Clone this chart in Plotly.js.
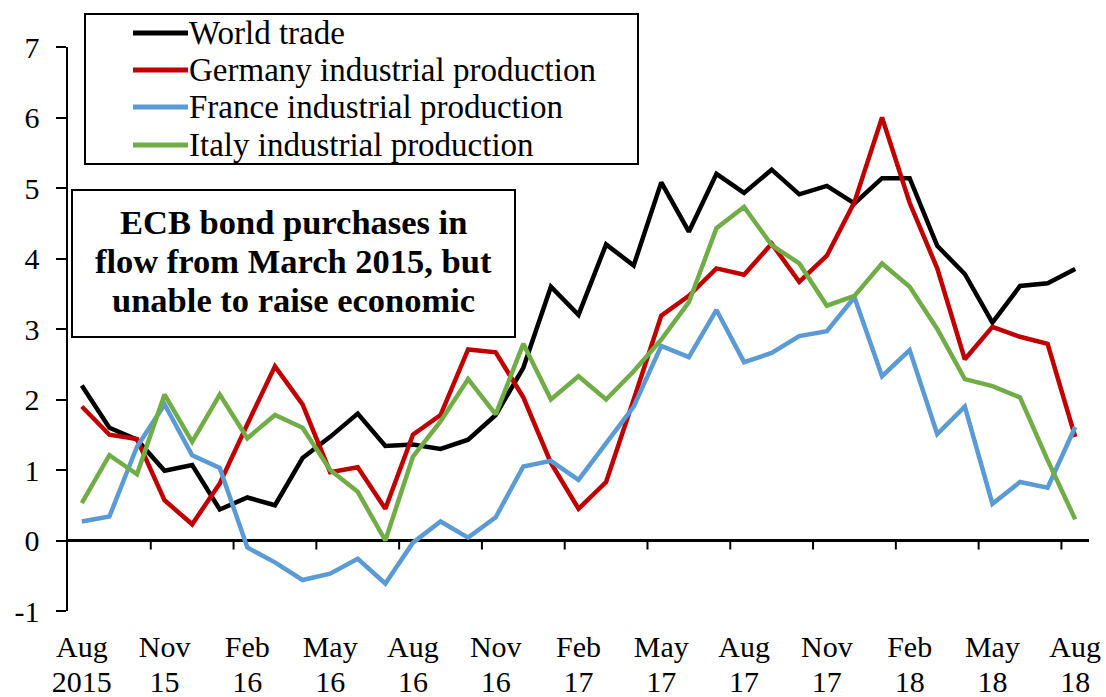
<!DOCTYPE html>
<html>
<head>
<meta charset="utf-8">
<script src="https://cdn.plot.ly/plotly-3.0.1.min.js"></script>
<style>
  html, body { margin: 0; padding: 0; background: #ffffff; }
  #chart { width: 1106px; height: 697px; }
</style>
</head>
<body>
<div id="chart"></div>
<script>
// Monthly categories, Aug 2015 .. Aug 2018 (year-on-year % change)
var months = [
  "Aug 2015", "Sep 2015", "Oct 2015", "Nov 2015", "Dec 2015",
  "Jan 2016", "Feb 2016", "Mar 2016", "Apr 2016", "May 2016", "Jun 2016",
  "Jul 2016", "Aug 2016", "Sep 2016", "Oct 2016", "Nov 2016", "Dec 2016",
  "Jan 2017", "Feb 2017", "Mar 2017", "Apr 2017", "May 2017", "Jun 2017",
  "Jul 2017", "Aug 2017", "Sep 2017", "Oct 2017", "Nov 2017", "Dec 2017",
  "Jan 2018", "Feb 2018", "Mar 2018", "Apr 2018", "May 2018", "Jun 2018",
  "Jul 2018", "Aug 2018"
];

var worldTrade = [2.2, 1.6, 1.43, 0.99, 1.07, 0.44, 0.61, 0.5, 1.17, 1.47, 1.8,
  1.34, 1.36, 1.3, 1.43, 1.78, 2.45, 3.6, 3.2, 4.2, 3.9, 5.08, 4.38,
  5.2, 4.93, 5.26, 4.91, 5.03, 4.78, 5.14, 5.14, 4.18, 3.78, 3.09, 3.61,
  3.65, 3.85];

var germany = [1.9, 1.5, 1.44, 0.57, 0.23, 0.81, 1.65, 2.47, 1.93, 0.97, 1.04,
  0.45, 1.5, 1.78, 2.71, 2.67, 2.03, 1.1, 0.45, 0.83, 2.0, 3.19, 3.47,
  3.86, 3.77, 4.21, 3.67, 4.04, 4.8, 6.0, 4.79, 3.86, 2.57, 3.03, 2.89,
  2.79, 1.47];

var france = [0.27, 0.34, 1.33, 1.93, 1.21, 1.03, -0.1, -0.31, -0.56, -0.47, -0.26,
  -0.61, -0.03, 0.27, 0.04, 0.33, 1.05, 1.13, 0.86, 1.38, 1.9, 2.76, 2.6,
  3.27, 2.53, 2.66, 2.9, 2.97, 3.45, 2.33, 2.7, 1.51, 1.9, 0.52, 0.83,
  0.75, 1.61];

var italy = [0.53, 1.21, 0.94, 2.07, 1.4, 2.07, 1.45, 1.78, 1.6, 1.0, 0.69,
  0.0, 1.19, 1.69, 2.29, 1.79, 2.79, 2.0, 2.33, 2.0, 2.4, 2.85, 3.38,
  4.43, 4.73, 4.19, 3.93, 3.33, 3.47, 3.93, 3.6, 3.0, 2.29, 2.19, 2.03,
  1.14, 0.3];

var seriesNames = [
  "World trade",
  "Germany industrial production",
  "France industrial production",
  "Italy industrial production"
];
var seriesColors = ["#000000", "#C00000", "#5B9BD5", "#70AD47"];

// Quarterly tick labels: month row and year row
var tickMonths = ["Aug 2015", "Nov 2015", "Feb 2016", "May 2016", "Aug 2016",
  "Nov 2016", "Feb 2017", "May 2017", "Aug 2017", "Nov 2017", "Feb 2018",
  "May 2018", "Aug 2018"];
var monthText = ["Aug", "Nov", "Feb", "May", "Aug", "Nov", "Feb", "May", "Aug",
  "Nov", "Feb", "May", "Aug"];
var yearText = ["2015", "15", "16", "16", "16", "16", "17", "17", "17", "17",
  "18", "18", "18"];

var yTicks = [-1, 0, 1, 2, 3, 4, 5, 6, 7];
var yTickText = ["-1", "0", "1", "2", "3", "4", "5", "6", "7"];

var noteLines = ["ECB bond purchases in", "flow from March 2015, but",
  "unable to raise economic"];

// ---- page geometry (pixels) ----
var W = 1106, H = 697;
var M = { l: 68, r: 17, t: 47, b: 86 };
var plotW = W - M.l - M.r, plotH = H - M.t - M.b;
function px(x) { return (x - M.l) / plotW; }
function py(y) { return (H - M.b - y) / plotH; }

var FONT = "Liberation Serif, Times New Roman, serif";
var allSeries = [worldTrade, germany, france, italy];

// Series are stacked in order: world trade at the bottom, Italy on top.
// Italy sits on the overlaid x2 axis, which also carries the year row.
var traces = allSeries.map(function (vals, k) {
  return {
    type: "scatter",
    mode: "lines",
    x: months,
    y: vals,
    xaxis: k === 3 ? "x2" : "x",
    yaxis: "y",
    name: seriesNames[k],
    line: { color: seriesColors[k], width: 4.5 },
    showlegend: false,
    hoverinfo: "x+y+name"
  };
});

var shapes = [];
// Tick marks on the zero line, between categories every third month
for (var i = 3; i < months.length; i += 3) {
  shapes.push({
    type: "line", xref: "x", yref: "y", ysizemode: "pixel", yanchor: 0,
    x0: i - 0.5, x1: i - 0.5, y0: 0, y1: -9,
    line: { color: "#000000", width: 2 }
  });
}

// Legend box
var legBox = { x0: 85, x1: 638, y0: 14, y1: 164 };
shapes.push({
  type: "rect", xref: "paper", yref: "paper",
  x0: px(legBox.x0), x1: px(legBox.x1), y0: py(legBox.y1), y1: py(legBox.y0),
  line: { color: "#000000", width: 2 }, fillcolor: "#ffffff", layer: "above"
});
var legRows = [33, 70, 107, 145];
var annotations = [];
for (var k = 0; k < seriesNames.length; k++) {
  shapes.push({
    type: "line", xref: "paper", yref: "paper",
    x0: px(133), x1: px(188), y0: py(legRows[k]), y1: py(legRows[k]),
    line: { color: seriesColors[k], width: 5 }, layer: "above"
  });
  annotations.push({
    xref: "paper", yref: "paper", x: px(187), y: py(legRows[k]),
    xanchor: "left", yanchor: "middle", showarrow: false,
    text: seriesNames[k],
    font: { family: FONT, size: 33, color: "#000000" }
  });
}

// Boxed note, one annotation per line for tight line spacing
var noteBox = { x0: 72, x1: 515, y0: 190, y1: 337 };
shapes.push({
  type: "rect", xref: "paper", yref: "paper",
  x0: px(noteBox.x0), x1: px(noteBox.x1), y0: py(noteBox.y1), y1: py(noteBox.y0),
  line: { color: "#000000", width: 2 }, fillcolor: "#ffffff", layer: "above"
});
var noteRows = [222, 261, 300];
noteLines.forEach(function (line, j) {
  annotations.push({
    xref: "paper", yref: "paper",
    x: px(293), y: py(noteRows[j]),
    xanchor: "center", yanchor: "middle", showarrow: false,
    text: "<b>" + line + "</b>",
    font: { family: FONT, size: 34.5, color: "#000000" }
  });
});

var tickFont = { family: FONT, size: 30, color: "#000000" };

var layout = {
  width: W, height: H,
  margin: M,
  paper_bgcolor: "#ffffff",
  plot_bgcolor: "#ffffff",
  showlegend: false,
  font: { family: FONT, size: 30, color: "#000000" },
  xaxis: {
    type: "category",
    categoryorder: "array",
    categoryarray: months,
    range: [-0.5, months.length - 0.5],
    tickmode: "array",
    tickvals: tickMonths,
    ticktext: monthText,
    ticks: "",
    showline: false,
    showgrid: false,
    zeroline: false,
    ticklabelstandoff: 15,
    tickfont: tickFont
  },
  xaxis2: {
    type: "category",
    categoryorder: "array",
    categoryarray: months,
    overlaying: "x",
    anchor: "free",
    position: 0,
    side: "bottom",
    range: [-0.5, months.length - 0.5],
    tickmode: "array",
    tickvals: tickMonths,
    ticktext: yearText,
    ticks: "",
    showline: false,
    showgrid: false,
    zeroline: false,
    ticklabelstandoff: 50,
    tickfont: tickFont
  },
  yaxis: {
    range: [-1, 7],
    tickmode: "array",
    tickvals: yTicks,
    ticktext: yTickText,
    ticks: "outside",
    ticklen: 10,
    tickwidth: 2,
    tickcolor: "#000000",
    showline: true,
    linecolor: "#000000",
    linewidth: 2.5,
    showgrid: false,
    zeroline: true,
    zerolinecolor: "#000000",
    zerolinewidth: 3,
    ticklabelstandoff: 10,
    tickfont: tickFont
  },
  shapes: shapes,
  annotations: annotations
};

Plotly.newPlot("chart", traces, layout, { displayModeBar: false, staticPlot: true });
</script>
</body>
</html>
